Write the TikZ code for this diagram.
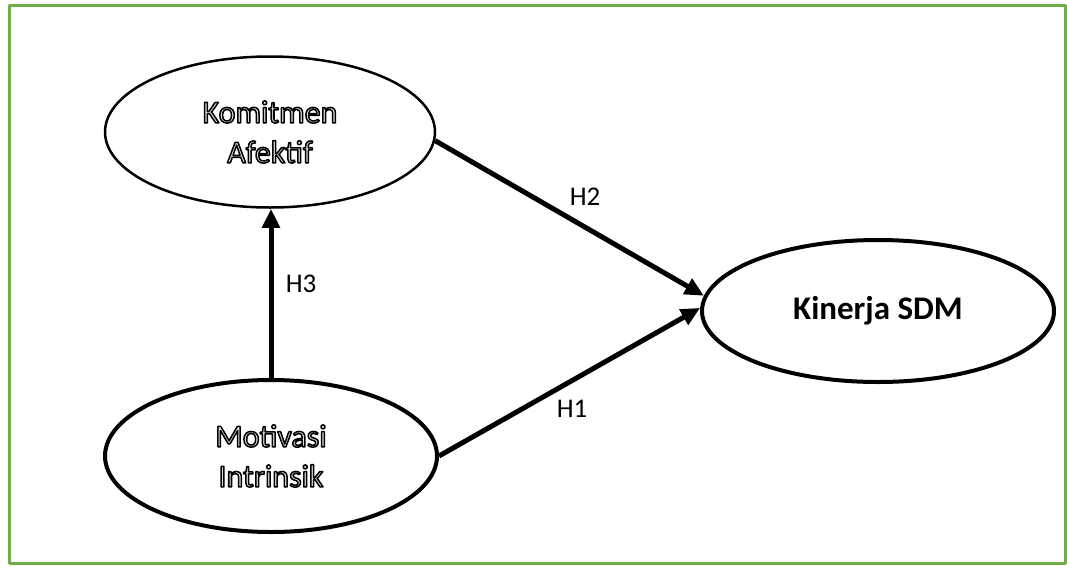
\documentclass[tikz,border=0pt]{standalone}
\usepackage{fontspec}
\setmainfont{Carlito}
\usepackage{tikz}
\usetikzlibrary{arrows.meta}
\usetikzlibrary{shapes.geometric}
\definecolor{bingkai}{RGB}{112,173,71}
% hollow letters (outline, light fill)
\newcommand{\hollowtxt}[1]{\special{pdf:literal direct 2 Tr 1.5 w 0 G 0.88 g}#1\special{pdf:literal direct 0 Tr 0 g}}
\tikzset{konstruk/.style={ellipse,draw,inner sep=0pt,align=center,
    font=\fontsize{32}{40}\selectfont},
  panah/.style={->,line width=5pt,line cap=butt},
  hipo/.style={font=\fontsize{27}{30}\selectfont}}

\begin{document}
\begin{tikzpicture}[line cap=round,line join=round,>={Triangle[length=19pt,width=17pt]},x=1.0pt,y=-1.0pt]
      \useasboundingbox (0,0) rectangle (1067,565);
      \draw[bingkai,line width=3pt] (9.5,5.5) rectangle (1065.5,563);
      \node[konstruk,line width=2.5pt,minimum width=330pt,minimum height=151pt] (ka) at (270,132) {\hollowtxt{Komitmen}\\\hollowtxt{Afektif}};
      \node[konstruk,line width=4pt,minimum width=332pt,minimum height=152pt] (mi) at (271,456) {\hollowtxt{Motivasi}\\\hollowtxt{Intrinsik}};
      \node[konstruk,line width=4pt,minimum width=352pt,minimum height=142pt,font=\fontsize{33}{36}\selectfont\bfseries] (ks) at (878,311) {Kinerja SDM};
      \draw[panah] (mi.north) -- (mi.north |- ka.south);
      \draw[panah] (ka.-3) -- (ks.175);
      \draw[panah] (mi.east) -- (ks.179);
      \node[hipo] (h2) at (585,197) {H2};
      \node[hipo] (h3) at (301,284) {H3};
      \node[hipo] (h1) at (572,409) {H1};
    \end{tikzpicture}
\end{document}
